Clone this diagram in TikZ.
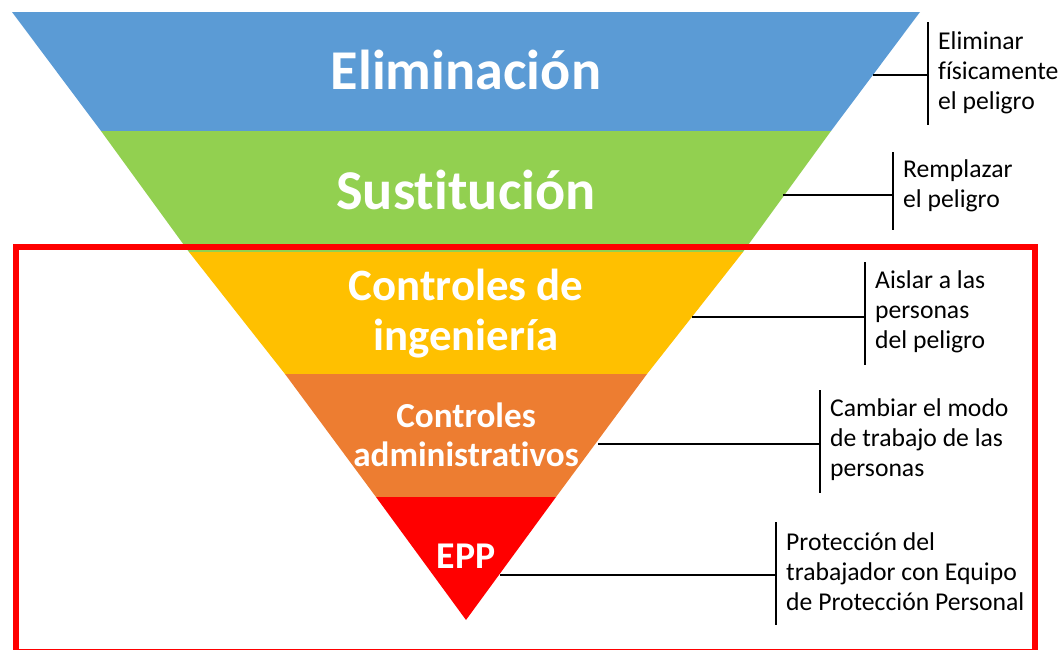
\documentclass[tikz,border=0pt]{standalone}
\usepackage{fontspec}
\setmainfont[Ligatures=NoCommon]{Carlito}
\usepackage{tikz}
\usepackage{xcolor}

\definecolor{elimblue}{HTML}{5B9BD5}
\definecolor{sustgreen}{HTML}{92D050}
\definecolor{ingyellow}{HTML}{FFC000}
\definecolor{admorange}{HTML}{ED7D31}
\definecolor{eppred}{HTML}{FF0000}

\begin{document}
\begin{tikzpicture}[x=0.02cm,y=-0.02cm,
  level/.style={text=white,font=\bfseries,align=center},
  note/.style={anchor=west,align=left,font=\fontsize{14.6}{17}\selectfont},
  bar/.style={line width=1.2pt}]
\useasboundingbox (0,0) rectangle (1064,649);

% bands of the inverted triangle
\fill[elimblue] (12,12) -- (920,12) -- (831,131) -- (101,131) -- cycle;
\fill[sustgreen] (101,131) -- (831,131) -- (743,252) -- (189,252) -- cycle;
\fill[ingyellow] (189,252) -- (743,252) -- (647,374) -- (285,374) -- cycle;
\fill[admorange] (285,374) -- (647,374) -- (556,497) -- (376,497) -- cycle;
\fill[eppred] (376,497) -- (556,497) -- (466,620) -- cycle;

% red frame
\draw[eppred,line width=3.4pt] (16,247) rectangle (1035,652);

\node[level,font=\fontsize{32}{34}\bfseries\selectfont] (elim) at (466,70) {Eliminación};
\node[level,font=\fontsize{32}{34}\bfseries\selectfont] (sust) at (466,190) {Sustitución};
\node[level,font=\fontsize{25.5}{28.5}\bfseries\selectfont] (ing) at (466,314) {Controles de\\ingeniería};
\node[level,font=\fontsize{20}{22}\bfseries\selectfont] (adm) at (466,435) {Controles\\administrativos};
\node[level,font=\fontsize{21.5}{24}\bfseries\selectfont] (epp) at (466,556) {EPP};

% connectors
\coordinate (e1) at (873,75);  \coordinate (b1) at (928,75);
\coordinate (e2) at (783,195); \coordinate (b2) at (893,195);
\coordinate (e3) at (692,317); \coordinate (b3) at (865,317);
\coordinate (e4) at (598,444); \coordinate (b4) at (820,444);
\coordinate (e5) at (500,575); \coordinate (b5) at (776,575);

\draw[bar] (e1) -- (b1);
\draw[bar] (b1) ++(0,-53) coordinate (t1) -- ++(0,103) coordinate (u1);
\draw[bar] (e2) -- (b2);
\draw[bar] (b2) ++(0,-43) coordinate (t2) -- ++(0,78) coordinate (u2);
\draw[bar] (e3) -- (b3);
\draw[bar] (b3) ++(0,-55) coordinate (t3) -- ++(0,103) coordinate (u3);
\draw[bar] (e4) -- (b4);
\draw[bar] (b4) ++(0,-54) coordinate (t4) -- ++(0,103) coordinate (u4);
\draw[bar] (e5) -- (b5);
\draw[bar] (b5) ++(0,-53) coordinate (t5) -- ++(0,103) coordinate (u5);

\node[note] (n1) at (932,73) {Eliminar\\físicamente\\el peligro};
\node[note] (n2) at (897,186) {Remplazar\\el peligro};
\node[note] (n3) at (869,312) {Aislar a las\\personas\\del peligro};
\node[note] (n4) at (824,440) {Cambiar el modo\\de trabajo de las\\personas};
\node[note] (n5) at (780,572) {Protección del\\trabajador con Equipo\\de Protección Personal};

\end{tikzpicture}
\end{document}
